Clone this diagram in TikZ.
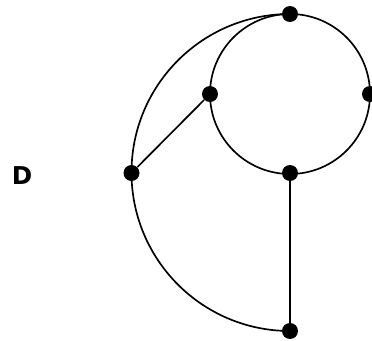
\documentclass[tikz,border=0pt]{standalone}
\usepackage{fontspec}
\setsansfont{DejaVu Sans}
\begin{document}
\begin{tikzpicture}[x=0.02cm,y=-0.02cm,
  vtx/.style={circle,fill=black,inner sep=0pt,minimum size=0.32cm},
  edge/.style={line width=0.95pt,black}]
\useasboundingbox (0,0) rectangle (372,341);
\clip (0,0) rectangle (372,341);
\node[font=\sffamily\bfseries\fontsize{14}{16}\selectfont] (lab) at (22,175.5) {D};
\coordinate (cc) at (290,94);
\coordinate (bc) at (290,172.5);
\draw[edge] (cc) circle [radius=80];
\draw[edge] (290,14) arc [start angle=-90, end angle=-270, radius=158.5];
\node[vtx] (t) at (290,14) {};
\node[vtx] (m) at (210,94) {};
\node[vtx] (r) at (370,94) {};
\node[vtx] (c) at (290,173) {};
\node[vtx] (l) at (131.5,173) {};
\node[vtx] (b) at (290,331) {};
\draw[edge] (m) -- (l);
\draw[edge] (c) -- (b);
\end{tikzpicture}
\end{document}
